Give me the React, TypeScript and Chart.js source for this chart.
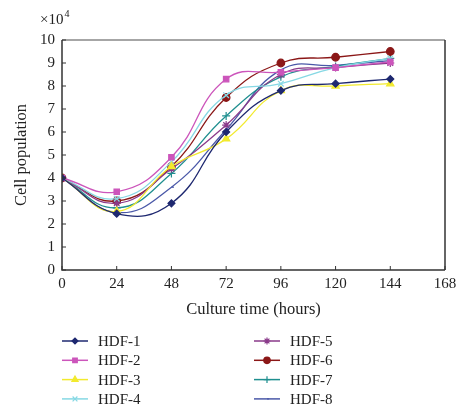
import React, { useEffect, useRef } from "react";
import { Chart, registerables } from "chart.js";
import { drawPoint } from "chart.js/helpers";

Chart.register(...registerables);

const hours = [0, 24, 48, 72, 96, 120, 144];
const xTicks = [0, 24, 48, 72, 96, 120, 144, 168];
const yTicks = [0, 1, 2, 3, 4, 5, 6, 7, 8, 9, 10];

const hdf1 = [4, 2.45, 2.9, 6.0, 7.8, 8.1, 8.3];
const hdf2 = [4, 3.4, 4.9, 8.3, 8.6, 8.8, 9.05];
const hdf3 = [4, 2.55, 4.5, 5.7, 7.8, 8.0, 8.1];
const hdf4 = [4, 3.1, 4.7, 7.6, 8.1, 8.8, 9.2];
const hdf5 = [4, 2.9, 4.4, 6.3, 8.5, 8.8, 9.0];
const hdf6 = [4, 3.0, 4.5, 7.5, 9.0, 9.25, 9.5];
const hdf7 = [4, 2.7, 4.2, 6.7, 8.4, 8.85, 9.2];
const hdf8 = [4, 2.5, 3.6, 6.1, 8.7, 8.9, 9.1];

const seriesNames = ["HDF-1", "HDF-2", "HDF-3", "HDF-4", "HDF-5", "HDF-6", "HDF-7", "HDF-8"];
const seriesValues = [hdf1, hdf2, hdf3, hdf4, hdf5, hdf6, hdf7, hdf8];
const seriesColors = ["#1e2870", "#cc55bb", "#f2ea2e", "#86d8e4", "#8a3a8a", "#8b1717", "#1f8f8f", "#4a58a8"];
const seriesMarkers = ["rectRot", "rect", "triangle", "crossRot", "star", "circle", "cross", "dash"];
const markerRadius = [3.5, 3.8, 4.2, 4, 4, 3.8, 4, 2.5];

const FONT = "'Liberation Serif', 'DejaVu Serif', serif";

const decorPlugin = {
  id: "decor",
  afterDraw(chart: any) {
    const ctx = chart.ctx;
    const { left, right, top, bottom } = chart.chartArea;
    const xs = chart.scales.x;
    const ys = chart.scales.y;
    ctx.save();
    // frame
    ctx.lineWidth = 1.5;
    ctx.strokeStyle = "#888";
    ctx.beginPath();
    ctx.moveTo(left, top);
    ctx.lineTo(right, top);
    ctx.stroke();
    ctx.strokeStyle = "#333";
    ctx.beginPath();
    ctx.moveTo(right, top);
    ctx.lineTo(right, bottom);
    ctx.stroke();
    ctx.beginPath();
    ctx.moveTo(left, top);
    ctx.lineTo(left, bottom);
    ctx.lineTo(right, bottom);
    ctx.stroke();
    // inward ticks
    ctx.lineWidth = 1;
    ctx.strokeStyle = "#333";
    xTicks.forEach((v) => {
      const px = xs.getPixelForValue(v);
      ctx.beginPath();
      ctx.moveTo(px, bottom);
      ctx.lineTo(px, bottom - 4);
      ctx.stroke();
    });
    yTicks.forEach((v) => {
      const py = ys.getPixelForValue(v);
      ctx.beginPath();
      ctx.moveTo(left, py);
      ctx.lineTo(left + 4, py);
      ctx.stroke();
    });
    // x10^4 label
    ctx.fillStyle = "#222";
    ctx.textBaseline = "alphabetic";
    ctx.textAlign = "left";
    ctx.font = `15px ${FONT}`;
    ctx.fillText("×10", 40, 24);
    const w = ctx.measureText("×10").width;
    ctx.font = `10px ${FONT}`;
    ctx.fillText("4", 40 + w + 1, 17);
    // legend
    seriesNames.forEach((name, i) => {
      const col = i < 4 ? 0 : 1;
      const row = i % 4;
      const x0 = col === 0 ? 62 : 254;
      const x1 = x0 + 26;
      const y = 341 + row * 19.3;
      ctx.strokeStyle = seriesColors[i];
      ctx.fillStyle = seriesColors[i];
      ctx.lineWidth = 1.5;
      ctx.beginPath();
      ctx.moveTo(x0, y);
      ctx.lineTo(x1, y);
      ctx.stroke();
      ctx.lineWidth = 1.2;
      drawPoint(
        ctx,
        { pointStyle: seriesMarkers[i], radius: markerRadius[i] * 0.85, rotation: 0, borderWidth: 1.2 } as any,
        (x0 + x1) / 2,
        y
      );
      ctx.font = `15px ${FONT}`;
      ctx.textBaseline = "middle";
      ctx.textAlign = "left";
      ctx.fillStyle = "#222";
      ctx.fillText(name, x1 + 10, y + 1);
    });
    ctx.restore();
  },
};

export default function App() {
  const ref = useRef<HTMLCanvasElement | null>(null);
  useEffect(() => {
    document.body.style.margin = "0";
    if (!ref.current) return;
    const chart = new Chart(ref.current, {
      type: "line",
      data: {
        datasets: seriesNames.map((name, i) => ({
          label: name,
          data: hours.map((h, j) => ({ x: h, y: seriesValues[i][j] })),
          borderColor: seriesColors[i],
          backgroundColor: seriesColors[i],
          borderWidth: 1.3,
          pointStyle: seriesMarkers[i] as any,
          pointRadius: markerRadius[i],
          pointBorderWidth: 1.2,
          tension: 0.45,
          fill: false,
        })),
      },
      options: {
        animation: false,
        responsive: false,
        maintainAspectRatio: false,
        layout: { padding: { left: 0, right: 30, top: 40, bottom: 97 } },
        plugins: { legend: { display: false }, tooltip: { enabled: false } },
        scales: {
          x: {
            type: "linear",
            min: 0,
            max: 168,
            afterBuildTicks: (s: any) => {
              s.ticks = xTicks.map((v) => ({ value: v }));
            },
            afterFit: (s: any) => {
              s.height = 50;
            },
            grid: { display: false, drawTicks: false },
            border: { display: false },
            ticks: { color: "#222", font: { family: FONT, size: 15 }, padding: 5, maxRotation: 0 },
            title: {
              display: true,
              text: "Culture time (hours)",
              color: "#222",
              font: { family: FONT, size: 16.5 },
              padding: { top: 5, bottom: 0 },
            },
          },
          y: {
            type: "linear",
            min: 0,
            max: 10,
            afterBuildTicks: (s: any) => {
              s.ticks = yTicks.map((v) => ({ value: v }));
            },
            afterFit: (s: any) => {
              s.width = 62;
            },
            grid: { display: false, drawTicks: false },
            border: { display: false },
            ticks: { color: "#222", font: { family: FONT, size: 15 }, padding: 7 },
            title: {
              display: true,
              text: "Cell population",
              color: "#222",
              font: { family: FONT, size: 16.5 },
              padding: { top: 12, bottom: 0 },
            },
          },
        },
      },
      plugins: [decorPlugin],
    });
    return () => chart.destroy();
  }, []);
  return (
    <div style={{ width: 475, height: 417, background: "#fff" }}>
      <canvas ref={ref} width={475} height={417} style={{ display: "block" }} />
    </div>
  );
}
